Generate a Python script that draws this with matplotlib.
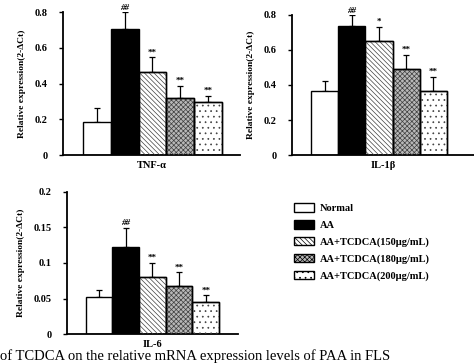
import matplotlib
matplotlib.use("Agg")
import matplotlib.pyplot as plt
from matplotlib.patches import Patch

plt.rcParams["font.family"] = ["Liberation Serif", "DejaVu Serif"]
plt.rcParams["hatch.linewidth"] = 0.5

groups = ["Normal", "AA", "AA+TCDCA(150μg/mL)", "AA+TCDCA(180μg/mL)", "AA+TCDCA(200μg/mL)"]

tnf_mean = [0.183, 0.705, 0.465, 0.321, 0.295]
tnf_err = [0.079, 0.093, 0.083, 0.066, 0.038]
tnf_marks = ["", "##", "**", "**", "**"]

il1b_mean = [0.367, 0.738, 0.650, 0.489, 0.365]
il1b_err = [0.055, 0.060, 0.082, 0.085, 0.082]
il1b_marks = ["", "##", "*", "**", "**"]

il6_mean = [0.052, 0.123, 0.081, 0.068, 0.045]
il6_err = [0.010, 0.026, 0.019, 0.019, 0.010]
il6_marks = ["", "##", "**", "**", "**"]

colors = ["white", "black", "white", "#b8b8b8", "white"]
hatches = [None, None, "\\\\\\\\\\\\\\", "xxxxxxx", "..."]

fig = plt.figure(figsize=(4.74, 3.64), dpi=100)


def panel(rect, means, errs, marks, name, ymax, yticks, ticklabels, xlim):
    ax = fig.add_axes(rect)
    x = list(range(len(means)))
    ax.bar(x, means, width=1.0, color=colors, edgecolor="black", linewidth=1.0, zorder=2)
    for i, h in enumerate(hatches):
        if h:
            ax.bar(x[i], means[i], width=1.0, color="none", edgecolor="#404040",
                   linewidth=0, hatch=h, zorder=3)
            ax.bar(x[i], means[i], width=1.0, color="none", edgecolor="black",
                   linewidth=1.0, zorder=4)
    ax.errorbar(x, means, yerr=[[0] * len(errs), errs], fmt="none", ecolor="black",
                elinewidth=0.9, capsize=2.5, capthick=0.9, zorder=1)
    for i, m in enumerate(marks):
        if m:
            ax.text(x[i], means[i] + errs[i] + ymax * 0.005, m, ha="center", va="bottom",
                    fontsize=6.5, fontweight="bold", style="italic" if m == "##" else "normal")
    ax.set_ylim(0, ymax)
    ax.set_xlim(*xlim)
    ax.set_yticks(yticks)
    ax.set_yticklabels(ticklabels, fontsize=7.5, fontweight="bold")
    ax.set_xticks([])
    ax.set_xlabel(name, fontsize=7.5, fontweight="bold", labelpad=4)
    ax.set_ylabel("Relative expression(2-ΔCt)", fontsize=6.8, fontweight="bold", labelpad=6)
    for s in ["top", "right"]:
        ax.spines[s].set_visible(False)
    for s in ["left", "bottom"]:
        ax.spines[s].set_linewidth(1.3)
    ax.tick_params(axis="y", length=3, width=1.0, pad=8)
    return ax


panel([0.133, 0.574, 0.373, 0.393], tnf_mean, tnf_err, tnf_marks, "TNF-α",
      0.8, [0, 0.2, 0.4, 0.6, 0.8], ["0", "0.2", "0.4", "0.6", "0.8"], (-1.22, 5.15))
panel([0.616, 0.574, 0.384, 0.385], il1b_mean, il1b_err, il1b_marks, "IL-1β",
      0.8, [0, 0.2, 0.4, 0.6, 0.8], ["0", "0.2", "0.4", "0.6", "0.8"], (-1.2, 5.49))
panel([0.141, 0.082, 0.361, 0.391], il6_mean, il6_err, il6_marks, "IL-6",
      0.2, [0, 0.05, 0.1, 0.15, 0.2], ["0", "0.05", "0.1", "0.15", "0.2"], (-1.21, 5.21))

handles = []
for c, h, g in zip(colors, hatches, groups):
    handles.append(Patch(facecolor=c, edgecolor="black", hatch=h, label=g, linewidth=1.0))
fig.legend(handles=handles, loc="upper left", bbox_to_anchor=(0.6, 1 - 194 / 364),
           frameon=False, prop={"size": 7.5, "weight": "bold"}, handlelength=1.9,
           handleheight=0.9, labelspacing=0.65, handletextpad=0.6)

fig.text(0.0, 0.002, "of TCDCA on the relative mRNA expression levels of PAA in FLS",
         fontsize=10.5, va="bottom", ha="left")

fig.savefig("out.png", dpi=100)
